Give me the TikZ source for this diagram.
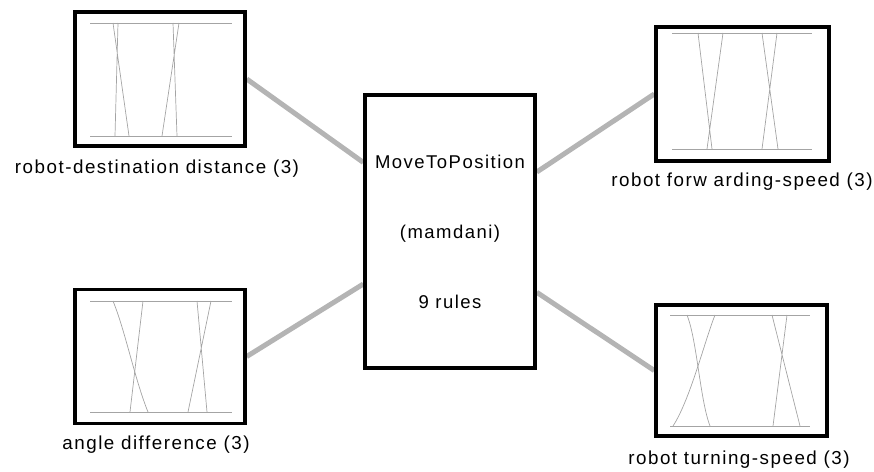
\documentclass[tikz,border=0pt]{standalone}
\usepackage{fontspec}
\setmainfont{Liberation Sans}[LetterSpace=8]
\usetikzlibrary{backgrounds,calc}
\definecolor{fislink}{HTML}{B4B4B4}
\definecolor{fismf}{HTML}{A4A4A4}
\tikzset{
  mfbox/.style={draw=black,line width=3.5pt,minimum width=170pt,minimum height=134pt,inner sep=0pt},
  sysbox/.style={mfbox,minimum height=273pt,align=center,font=\fontsize{18.5}{70}\selectfont},
  mflabel/.style={font=\fontsize{18.8}{20}\selectfont,inner sep=0pt},
  link/.style={draw=fislink,line width=5pt},
  mfline/.style={draw=fismf,line width=0.7pt}
}

\begin{document}
\begin{tikzpicture}[x=1pt,y=-1pt]
  \useasboundingbox (0,0) rectangle (874,471);
  % input and output variables
  \node[mfbox] (dist) at (160,79) {};
  \node[mfbox] (angle) at (160,356.5) {};
  \node[mfbox,minimum width=173pt] (fwd) at (742.5,94) {};
  \node[mfbox,minimum width=171pt,minimum height=131pt] (turn) at (741.5,370.5) {};
  \node[sysbox] (fis) at (450,231.5) {MoveToPosition\\(mamdani)\\9 rules};
  \node[mflabel] (distlbl) at (157,169) {robot-destination distance (3)};
  \node[mflabel] (anglelbl) at (156,445) {angle difference (3)};
  \node[mflabel] (fwdlbl) at (742,182) {robot forw arding-speed (3)};
  \node[mflabel] (turnlbl) at (739,460) {robot turning-speed (3)};
  \begin{scope}[on background layer]
    \draw[link] (dist.east)--($(fis.north west)!0.25!(fis.south west)$);
    \draw[link] (angle.east)--($(fis.north west)!0.69!(fis.south west)$);
    \draw[link] ($(fis.north east)!0.285!(fis.south east)$)--(fwd.west);
    \draw[link] ($(fis.north east)!0.72!(fis.south east)$)--(turn.west);
  \end{scope}
  % membership functions
  \draw[mfline] (90,23)--(232,23) (90,136)--(232,136);
  \draw[mfline] (113,23)--(129,136) (115,136)--(118,23);
  \draw[mfline] (173,23)--(177,136) (162,136)--(179,23);
  \draw[mfline] (90,301)--(232,301) (90,412)--(232,412);
  \draw[mfline] (113,301)..controls (125,330) and (135,380)..(148,412);
  \draw[mfline] (130,412)--(143,301) (197,301)--(207,412) (188,412)--(211,301);
  \draw[mfline] (672,33)--(812,33) (672,149)--(812,149);
  \draw[mfline] (698,33)--(712,149) (707,149)--(723,33);
  \draw[mfline] (762,33)--(778,149) (762,149)--(777,33);
  \draw[mfline] (670,315)--(810,315) (670,426)--(810,426);
  \draw[mfline] (687,315)..controls (697,340) and (700,400)..(710,426);
  \draw[mfline] (673,426)..controls (690,400) and (705,340)..(715,315);
  \draw[mfline] (772,315)--(800,426) (773,426)--(787,315);
\end{tikzpicture}
\end{document}
